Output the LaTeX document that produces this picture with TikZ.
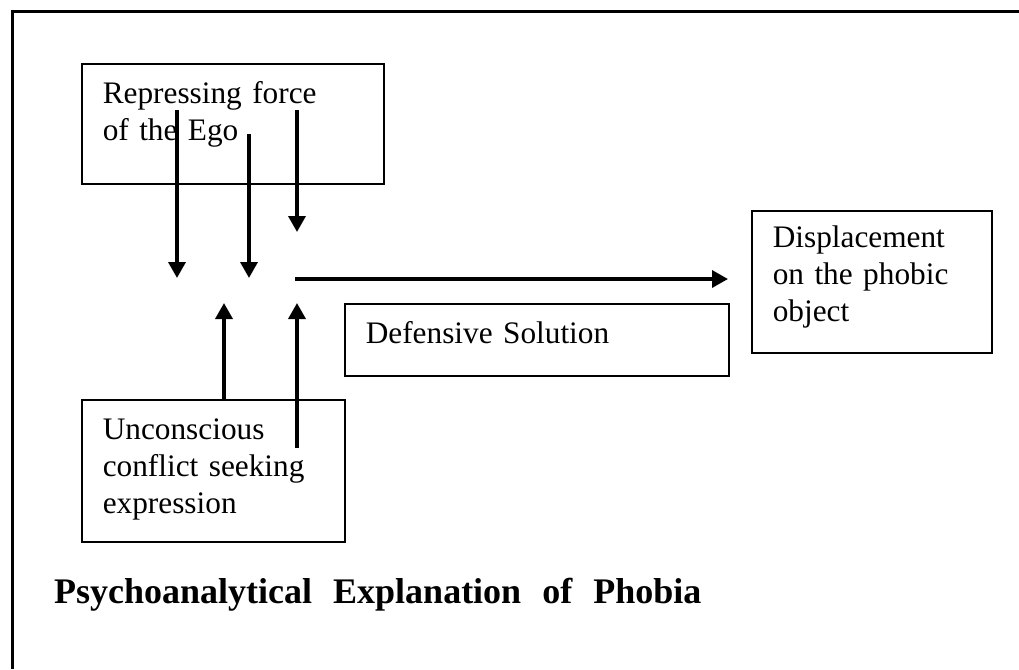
\documentclass[tikz,border=0pt]{standalone}
\usepackage{fontspec}
\setmainfont{Liberation Serif}
\usetikzlibrary{arrows.meta}

\begin{document}
\begin{tikzpicture}[x=1pt,y=-1pt,
	box/.style={draw,line width=1.6pt,anchor=north west,align=left,inner xsep=21pt,inner ysep=0pt,font=\fontsize{31.3}{37}\selectfont},
	force/.style={line width=3.5pt,-{Triangle[length=16pt,width=17pt]}}]
	\useasboundingbox (0,0) rectangle (1019,669);
	\draw[line width=3pt] (12,669) -- (12,12) -- (1019,12);
	% boxes
	\node[box,text width=260pt,text height=40pt,text depth=80pt] (ego) at (81,63) {Repressing force\\of the Ego};
	\node[box,text width=221pt,text height=40pt,text depth=102pt] (unc) at (81,399) {Unconscious\\conflict seeking\\expression};
	\node[box,text width=342pt,text height=40pt,text depth=32pt] (def) at (344,303) {Defensive Solution};
	\node[box,text width=198pt,text height=37pt,text depth=105pt] (disp) at (751,210) {Displacement\\on the phobic\\object};
	% arrow ends
	\coordinate (d1s) at (177,110); \coordinate (d1e) at (177,278);
	\coordinate (d2s) at (249,134); \coordinate (d2e) at (249,278);
	\coordinate (d3s) at (297,110); \coordinate (d3e) at (297,232);
	\coordinate (u1s) at (224,399); \coordinate (u1e) at (224,303);
	\coordinate (u2s) at (297,448); \coordinate (u2e) at (297,303);
	\coordinate (hs) at (295,279); \coordinate (he) at (728,279);
	\path[force]
		(d1s) edge (d1e)
		(d2s) edge (d2e)
		(d3s) edge (d3e)
		(u1s) edge (u1e)
		(u2s) edge (u2e)
		(hs) edge (he);
	\node[anchor=base west,inner sep=0pt,font=\fontsize{36}{40}\selectfont\bfseries] (title) at (54,603)
		{Psychoanalytical\hspace{21pt}Explanation\hspace{21pt}of\hspace{21pt}Phobia};
\end{tikzpicture}
\end{document}
